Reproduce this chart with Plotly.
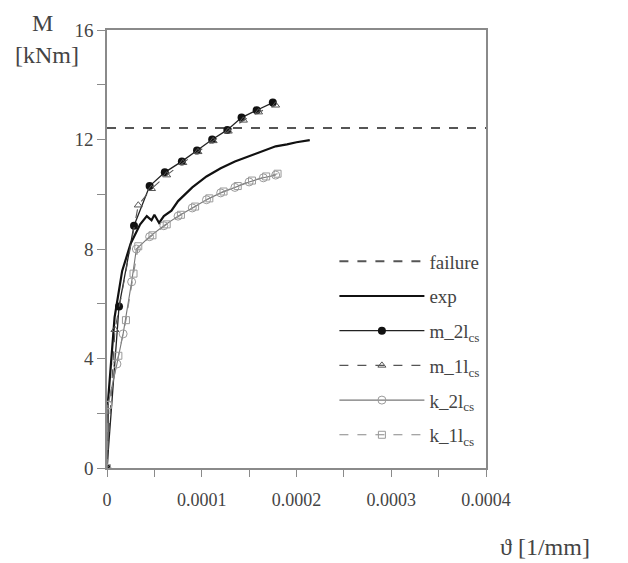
import plotly.graph_objects as go

# ---- data ----
failure_x = [0, 0.0004]
failure_y = [12.42, 12.42]

exp_x = [0, 0.000001, 0.000008, 0.000016, 0.000025, 0.000035, 0.000042, 0.000047, 0.00005,
         0.000055, 0.00006, 0.000068, 0.000075, 0.00009, 0.000105, 0.00012, 0.000135,
         0.00015, 0.000165, 0.000178, 0.00019, 0.0002, 0.000214]
exp_y = [0, 2.4, 5.5, 7.2, 8.2, 8.9, 9.2, 9.05, 9.25, 8.95, 9.2, 9.4, 9.75, 10.25, 10.65,
         10.95, 11.2, 11.4, 11.6, 11.75, 11.82, 11.9, 11.98]

m2_x = [0, 0.0000127, 0.0000285, 0.000045, 0.000061, 0.000079, 0.000095, 0.000111,
        0.000127, 0.000142, 0.000158, 0.000175]
m2_y = [0, 5.9, 8.85, 10.3, 10.8, 11.2, 11.6, 12.0, 12.35, 12.8, 13.07, 13.35]

m1_x = [0, 0.0000084, 0.000033, 0.000047, 0.000063, 0.00008, 0.000096, 0.000112,
        0.000128, 0.000144, 0.00016, 0.000178]
m1_y = [0, 5.05, 9.6, 10.2, 10.7, 11.15, 11.55, 11.95, 12.3, 12.7, 13.0, 13.25]

k2_x = [0, 0.000001, 0.0000105, 0.000017, 0.000026, 0.000031, 0.000045, 0.00006, 0.000075,
        0.00009, 0.000105, 0.00012, 0.000135, 0.00015, 0.000165, 0.000178]
k2_y = [0, 2.3, 3.8, 4.9, 6.8, 8.0, 8.45, 8.85, 9.2, 9.5, 9.8, 10.05, 10.25, 10.45, 10.6, 10.7]

k1_x = [0, 0.000001, 0.000012, 0.00002, 0.000028, 0.000033, 0.000048, 0.000063, 0.000078,
        0.000093, 0.000108, 0.000123, 0.000138, 0.000153, 0.000168, 0.00018]
k1_y = [0, 2.3, 4.1, 5.4, 7.1, 8.1, 8.5, 8.9, 9.25, 9.55, 9.85, 10.1, 10.3, 10.5, 10.65, 10.75]

x_ticks = [0, 0.0001, 0.0002, 0.0003, 0.0004]
x_tick_labels = ["0", "0.0001", "0.0002", "0.0003", "0.0004"]
y_ticks = [0, 4, 8, 12, 16]
y_tick_labels = ["0", "4", "8", "12", "16"]

SERIF = "Liberation Serif, Times New Roman, serif"
AX = "#8a8a8a"
TXT = "#444444"
GRAY = "#9a9a9a"

fig = go.Figure()
fig.add_trace(go.Scatter(x=failure_x, y=failure_y, mode="lines", name="failure",
                         line=dict(color="#555555", width=2, dash="dash"), legendgroup="a"))
fig.add_trace(go.Scatter(x=exp_x, y=exp_y, mode="lines", name="exp",
                         line=dict(color="#111111", width=2.2), legendgroup="b"))
fig.add_trace(go.Scatter(x=m2_x, y=m2_y, mode="lines+markers", name="m_2l<sub>cs</sub>",
                         line=dict(color="#222222", width=1.3),
                         marker=dict(symbol="circle", size=8, color="#111111"), legendgroup="c"))
fig.add_trace(go.Scatter(x=m1_x, y=m1_y, mode="lines+markers", name="m_1l<sub>cs</sub>",
                         line=dict(color="#555555", width=1.1, dash="dash"),
                         marker=dict(symbol="triangle-up-open", size=7, color="#555555"), legendgroup="d"))
fig.add_trace(go.Scatter(x=k2_x, y=k2_y, mode="lines+markers", name="k_2l<sub>cs</sub>",
                         line=dict(color="#777777", width=1.1),
                         marker=dict(symbol="circle-open", size=8, color=GRAY), legendgroup="e"))
fig.add_trace(go.Scatter(x=k1_x, y=k1_y, mode="lines+markers", name="k_1l<sub>cs</sub>",
                         line=dict(color="#888888", width=1.1, dash="dash"),
                         marker=dict(symbol="square-open", size=7, color=GRAY), legendgroup="f"))

fig.update_layout(
    width=628, height=563,
    margin=dict(l=99, r=150, t=12, b=103),
    plot_bgcolor="white", paper_bgcolor="white",
    font=dict(family=SERIF, color=TXT, size=16),
    legend=dict(x=0.6, y=0.515, xanchor="left", yanchor="top",
                bgcolor="rgba(255,255,255,0)", font=dict(family=SERIF, size=19, color=TXT),
                itemwidth=85, tracegroupgap=7),
    xaxis=dict(range=[0, 0.0004], tickvals=x_ticks, ticktext=x_tick_labels,
               showgrid=False, zeroline=False, showline=True, linecolor=AX, linewidth=1.5,
               mirror=True, ticks="outside", ticklen=7, tickcolor=AX, ticklabelstandoff=8,
               minor=dict(dtick=0.00005, ticks="outside", ticklen=7, tickcolor=AX),
               tickfont=dict(family=SERIF, size=18, color=TXT)),
    yaxis=dict(range=[0, 16], tickvals=y_ticks, ticktext=y_tick_labels,
               showgrid=False, zeroline=False, showline=True, linecolor=AX, linewidth=1.5,
               mirror=True, ticks="outside", ticklen=8, tickcolor=AX,
               minor=dict(dtick=2, ticks="outside", ticklen=8, tickcolor=AX),
               tickfont=dict(family=SERIF, size=19, color=TXT)),
)
fig.add_annotation(text="M", xref="paper", yref="paper", x=-0.17, y=1.016,
                   xanchor="center", yanchor="middle",
                   showarrow=False, font=dict(family=SERIF, size=24, color=TXT))
fig.add_annotation(text="[kNm]", xref="paper", yref="paper", x=-0.158, y=0.944,
                   xanchor="center", yanchor="middle",
                   showarrow=False, font=dict(family=SERIF, size=24, color=TXT))
fig.add_annotation(text="ϑ [1/mm]", xref="paper", yref="paper", x=1.156, y=-0.18,
                   xanchor="center", yanchor="middle",
                   showarrow=False, font=dict(family=SERIF, size=24, color=TXT))

fig.write_html("out.html")
